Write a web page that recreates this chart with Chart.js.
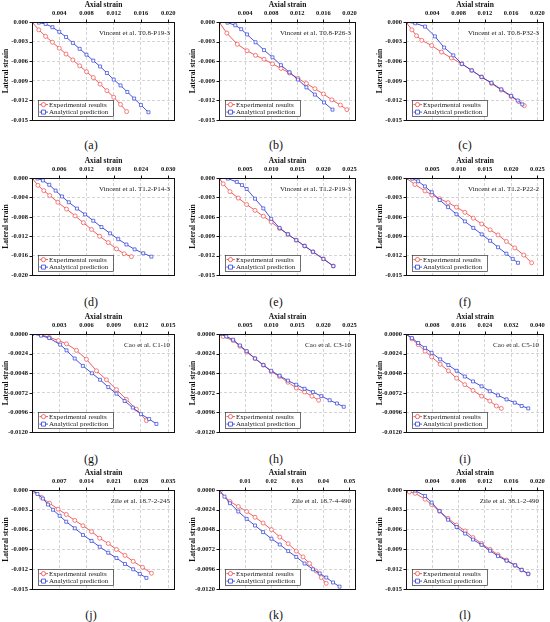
<!DOCTYPE html>
<html>
<head>
<meta charset="utf-8">
<script src="https://cdn.jsdelivr.net/npm/chart.js@4.4.0/dist/chart.umd.min.js"></script>
<style>
body{margin:0;background:#fff;width:550px;height:622px;position:relative;overflow:hidden}
canvas{position:absolute}
.lbl{position:absolute;font-family:"Liberation Serif",serif;font-size:12px;color:#111;transform:translate(-50%,-50%)}
</style>
</head>
<body>
<script>
var panelLetters = ['a','b','c','d','e','f','g','h','i','j','k','l']
var specimenNames = [
    'Vincent et al. T0.8-P19-3','Vincent et al. T0.8-P26-3','Vincent et al. T0.8-P32-3',
    'Vincent et al. T1.2-P14-3','Vincent et al. T1.2-P19-3','Vincent et al. T1.2-P22-2',
    'Cao et al. C1-10','Cao et al. C3-10','Cao et al. C5-10',
    'Zile et al. 18.7-2-245','Zile et al. 18.7-4-490','Zile et al. 38.1-2-490'
]
var xTickSets = [
    [0.004,0.008,0.012,0.016,0.020],
    [0.004,0.008,0.012,0.016,0.020],
    [0.004,0.008,0.012,0.016,0.020],
    [0.006,0.012,0.018,0.024,0.030],
    [0.005,0.010,0.015,0.020,0.025],
    [0.005,0.010,0.015,0.020,0.025],
    [0.003,0.006,0.009,0.012,0.015],
    [0.005,0.010,0.015,0.020,0.025],
    [0.008,0.016,0.024,0.032,0.040],
    [0.007,0.014,0.021,0.028,0.035],
    [0.01,0.02,0.03,0.04,0.05],
    [0.004,0.008,0.012,0.016,0.020]
]
var xDecimals = [3,3,3,3,3,3,3,3,3,3,2,3]
var yTicks15 = [0,-0.003,-0.006,-0.009,-0.012,-0.015]
var yTicks20 = [0,-0.004,-0.008,-0.012,-0.016,-0.020]
var yTicks12 = [0,-0.0024,-0.0048,-0.0072,-0.0096,-0.0120]
var yTickSets = [yTicks15,yTicks15,yTicks15,yTicks20,yTicks15,yTicks15,yTicks12,yTicks12,yTicks12,yTicks15,yTicks12,yTicks15]
var yDecimals = [3,3,3,3,3,3,4,4,4,3,4,3]

// experimental results / analytical prediction, [axial, lateral]
var expA = [[0,0],[0.001,-0.0012],[0.002,-0.0022],[0.003,-0.0031],[0.004,-0.0040],[0.005,-0.0049],[0.006,-0.0058],[0.007,-0.0067],[0.008,-0.0076],[0.009,-0.0085],[0.010,-0.0095],[0.011,-0.0105],[0.012,-0.0115],[0.013,-0.0126],[0.0139,-0.0137]]
var anaA = [[0,0],[0.001,-0.0001],[0.002,-0.0003],[0.003,-0.0008],[0.004,-0.0015],[0.005,-0.0023],[0.006,-0.0032],[0.007,-0.0041],[0.008,-0.0050],[0.009,-0.0059],[0.010,-0.0068],[0.011,-0.0078],[0.012,-0.0088],[0.013,-0.0097],[0.014,-0.0107],[0.015,-0.0117],[0.016,-0.0127],[0.0171,-0.0138]]
var expB = [[0,0],[0.0012,-0.0017],[0.0028,-0.0034],[0.0043,-0.0044],[0.0056,-0.0051],[0.0069,-0.0057],[0.0082,-0.0064],[0.0095,-0.0071],[0.0108,-0.0078],[0.0121,-0.0086],[0.0134,-0.0094],[0.0147,-0.0102],[0.016,-0.0110],[0.0173,-0.0119],[0.0186,-0.0127],[0.0196,-0.0134]]
var anaB = [[0,0],[0.0013,-0.0001],[0.0025,-0.0005],[0.0034,-0.0011],[0.0043,-0.0019],[0.0056,-0.0031],[0.0069,-0.0043],[0.0082,-0.0054],[0.0095,-0.0066],[0.0108,-0.0077],[0.0121,-0.0088],[0.0134,-0.0100],[0.0147,-0.0111],[0.0161,-0.0123],[0.0174,-0.0134]]
var expC = [[0,0],[0.0009,-0.0012],[0.0016,-0.0021],[0.0024,-0.0028],[0.0039,-0.0036],[0.0054,-0.0046],[0.0069,-0.0055],[0.0085,-0.0064],[0.0100,-0.0074],[0.0115,-0.0084],[0.0130,-0.0094],[0.0145,-0.0104],[0.0160,-0.0114],[0.0172,-0.0122],[0.0180,-0.0128]]
var anaC = [[0,0],[0.0014,-0.0002],[0.0029,-0.0007],[0.0044,-0.0022],[0.0058,-0.0039],[0.0072,-0.0051],[0.0085,-0.0064],[0.0100,-0.0074],[0.0115,-0.0084],[0.0130,-0.0093],[0.0145,-0.0103],[0.0160,-0.0113],[0.0170,-0.0120],[0.0177,-0.0126]]
var expD = [[0,0],[0.0013,-0.0015],[0.0026,-0.0026],[0.0039,-0.0036],[0.0057,-0.0050],[0.0076,-0.0064],[0.0095,-0.0078],[0.0113,-0.0092],[0.0131,-0.0106],[0.0149,-0.0120],[0.0168,-0.0133],[0.0186,-0.0146],[0.0203,-0.0156],[0.0219,-0.0162]]
var anaD = [[0,0],[0.0012,-0.0001],[0.0024,-0.0005],[0.0038,-0.0014],[0.0052,-0.0026],[0.0066,-0.0038],[0.0081,-0.0050],[0.0099,-0.0063],[0.0117,-0.0075],[0.0135,-0.0088],[0.0153,-0.0101],[0.0172,-0.0114],[0.0190,-0.0126],[0.0208,-0.0137],[0.0226,-0.0147],[0.0245,-0.0155],[0.0263,-0.0162]]
var expE = [[0,0],[0.0008,-0.0009],[0.0021,-0.0021],[0.0037,-0.0031],[0.0053,-0.0041],[0.0069,-0.0050],[0.0085,-0.0059],[0.0100,-0.0068],[0.0116,-0.0078],[0.0132,-0.0087],[0.0148,-0.0096],[0.0164,-0.0105],[0.0180,-0.0114],[0.0200,-0.0125],[0.0219,-0.0136]]
var anaE = [[0,0],[0.0017,-0.0001],[0.0034,-0.0006],[0.0044,-0.0011],[0.0053,-0.0017],[0.0069,-0.0032],[0.0085,-0.0047],[0.0100,-0.0063],[0.0116,-0.0077],[0.0132,-0.0087],[0.0148,-0.0096],[0.0164,-0.0105],[0.0180,-0.0114],[0.0200,-0.0125],[0.0219,-0.0136]]
var expF = [[0,0],[0.0017,-0.0010],[0.0036,-0.0020],[0.0049,-0.0026],[0.0064,-0.0032],[0.0080,-0.0038],[0.0096,-0.0045],[0.0112,-0.0053],[0.0128,-0.0062],[0.0144,-0.0071],[0.0160,-0.0080],[0.0175,-0.0088],[0.0191,-0.0098],[0.0207,-0.0108],[0.0224,-0.0119],[0.0239,-0.0131]]
var anaF = [[0,0],[0.0012,-0.0001],[0.0023,-0.0005],[0.0036,-0.0013],[0.0049,-0.0022],[0.0064,-0.0034],[0.0080,-0.0045],[0.0096,-0.0056],[0.0112,-0.0067],[0.0128,-0.0077],[0.0144,-0.0087],[0.0160,-0.0097],[0.0175,-0.0107],[0.0191,-0.0117],[0.0203,-0.0125],[0.0213,-0.0131]]
var expG = [[0,0],[0.0010,-0.0001],[0.0019,-0.0004],[0.0029,-0.0008],[0.0038,-0.0012],[0.0049,-0.0020],[0.0060,-0.0031],[0.0071,-0.0045],[0.0082,-0.0056],[0.0093,-0.0068],[0.0104,-0.0080],[0.0115,-0.0092],[0.0126,-0.0106]]
var anaG = [[0,0],[0.0010,-0.0002],[0.0019,-0.0005],[0.0031,-0.0013],[0.0038,-0.0020],[0.0047,-0.0030],[0.0056,-0.0039],[0.0066,-0.0048],[0.0075,-0.0056],[0.0084,-0.0065],[0.0093,-0.0073],[0.0102,-0.0082],[0.0111,-0.0090],[0.0120,-0.0098],[0.0129,-0.0104],[0.0137,-0.0110]]
var expH = [[0,0],[0.0008,-0.0003],[0.0027,-0.0008],[0.0040,-0.0015],[0.0053,-0.0022],[0.0069,-0.0030],[0.0085,-0.0038],[0.0100,-0.0046],[0.0116,-0.0052],[0.0132,-0.0059],[0.0148,-0.0066],[0.0164,-0.0071],[0.0178,-0.0076],[0.0191,-0.0081]]
var anaH = [[0,0],[0.0014,-0.0003],[0.0027,-0.0007],[0.0040,-0.0014],[0.0053,-0.0021],[0.0069,-0.0030],[0.0085,-0.0038],[0.0100,-0.0045],[0.0116,-0.0051],[0.0132,-0.0057],[0.0148,-0.0062],[0.0164,-0.0067],[0.0180,-0.0071],[0.0196,-0.0076],[0.0212,-0.0081],[0.0226,-0.0085],[0.0239,-0.0089]]
var expI = [[0,0],[0.0018,-0.0006],[0.0037,-0.0013],[0.0058,-0.0021],[0.0078,-0.0028],[0.0104,-0.0037],[0.0129,-0.0045],[0.0154,-0.0054],[0.0179,-0.0062],[0.0204,-0.0069],[0.0230,-0.0076],[0.0255,-0.0082],[0.0275,-0.0088],[0.0290,-0.0091]]
var anaI = [[0,0],[0.0018,-0.0005],[0.0037,-0.0011],[0.0058,-0.0017],[0.0078,-0.0023],[0.0104,-0.0031],[0.0129,-0.0038],[0.0154,-0.0045],[0.0179,-0.0052],[0.0204,-0.0058],[0.0230,-0.0064],[0.0255,-0.0070],[0.0280,-0.0075],[0.0306,-0.0080],[0.0331,-0.0084],[0.0352,-0.0088],[0.0372,-0.0091]]
var expJ = [[0,0],[0.0003,-0.0002],[0.0024,-0.0011],[0.0045,-0.0020],[0.0067,-0.0029],[0.0088,-0.0037],[0.0110,-0.0046],[0.0131,-0.0054],[0.0153,-0.0063],[0.0174,-0.0073],[0.0196,-0.0081],[0.0217,-0.0090],[0.0239,-0.0099],[0.0260,-0.0108],[0.0284,-0.0117],[0.0307,-0.0126]]
var anaJ = [[0,0],[0.0014,-0.0006],[0.0028,-0.0013],[0.0041,-0.0022],[0.0054,-0.0030],[0.0071,-0.0039],[0.0088,-0.0048],[0.0110,-0.0058],[0.0131,-0.0068],[0.0153,-0.0077],[0.0174,-0.0086],[0.0196,-0.0095],[0.0217,-0.0103],[0.0239,-0.0112],[0.0260,-0.0120],[0.0277,-0.0127],[0.0294,-0.0133]]
var expK = [[0,0],[0.0004,-0.0002],[0.0042,-0.0014],[0.0074,-0.0020],[0.0106,-0.0026],[0.0138,-0.0033],[0.0169,-0.0040],[0.0201,-0.0048],[0.0233,-0.0057],[0.0265,-0.0065],[0.0296,-0.0074],[0.0322,-0.0081],[0.0347,-0.0089],[0.0372,-0.0098],[0.0392,-0.0106],[0.0411,-0.0113]]
var anaK = [[0,0],[0.0021,-0.0008],[0.0042,-0.0016],[0.0074,-0.0026],[0.0106,-0.0035],[0.0138,-0.0043],[0.0169,-0.0051],[0.0201,-0.0059],[0.0233,-0.0066],[0.0265,-0.0074],[0.0296,-0.0081],[0.0328,-0.0089],[0.0360,-0.0096],[0.0386,-0.0101],[0.0411,-0.0106],[0.0437,-0.0112],[0.0462,-0.0117]]
var expL = [[0,-0.0001],[0.0005,-0.0003],[0.0014,-0.0005],[0.0029,-0.0014],[0.0039,-0.0022],[0.0051,-0.0032],[0.0064,-0.0043],[0.0077,-0.0053],[0.0090,-0.0062],[0.0102,-0.0072],[0.0115,-0.0081],[0.0128,-0.0090],[0.0140,-0.0098],[0.0153,-0.0106],[0.0166,-0.0114],[0.0176,-0.0121],[0.0186,-0.0127]]
var anaL = [[0,0],[0.0014,-0.0001],[0.0029,-0.0009],[0.0039,-0.0019],[0.0051,-0.0032],[0.0064,-0.0045],[0.0077,-0.0056],[0.0090,-0.0066],[0.0102,-0.0075],[0.0115,-0.0083],[0.0128,-0.0092],[0.0140,-0.0100],[0.0153,-0.0107],[0.0166,-0.0114],[0.0176,-0.0121],[0.0186,-0.0127]]

var expSeries = [expA,expB,expC,expD,expE,expF,expG,expH,expI,expJ,expK,expL]
var anaSeries = [anaA,anaB,anaC,anaD,anaE,anaF,anaG,anaH,anaI,anaJ,anaK,anaL]

// page layout of plot areas
var colLeft = [32,219,406]
var colRight = [175,356,544]
var rowTop = [22,178,334,490]
var rowBottom = [123,278,435,592]
var labelX = [91,276,465]
var labelY = [145,302,459,615]

var RED = '#f24a4a'
var BLUE = '#2f3fd8'
var SERIF = '"Liberation Serif", "Times New Roman", serif'

function makeDeco(i){
    return {
        id: 'deco' + i,
        afterDraw: function(chart){
            var ctx = chart.ctx
            var a = chart.chartArea
            ctx.save()
            // frame
            ctx.strokeStyle = '#111'
            ctx.lineWidth = 1
            ctx.strokeRect(Math.round(a.left) + 0.5, Math.round(a.top) + 0.5, Math.round(a.right - a.left) - 1, Math.round(a.bottom - a.top))
            // small ticks
            var xs = chart.scales.x, ys = chart.scales.y
            ctx.beginPath()
            xTickSets[i].forEach(function(v){
                var px = Math.round(xs.getPixelForValue(v)) + 0.5
                ctx.moveTo(px, a.top); ctx.lineTo(px, a.top - 2.5)
            })
            yTickSets[i].forEach(function(v){
                var py = Math.round(ys.getPixelForValue(v)) + 0.5
                ctx.moveTo(a.left, py); ctx.lineTo(a.left - 2.5, py)
            })
            ctx.stroke()
            // specimen name
            ctx.fillStyle = '#222'
            ctx.font = '7px ' + SERIF
            ctx.textAlign = 'right'
            ctx.textBaseline = 'middle'
            ctx.fillText(specimenNames[i], a.right - 5, a.top + 11)
            // legend box
            var bx = a.left + 6, by = a.bottom - 20, bw = 75, bh = 16
            ctx.fillStyle = '#fff'
            ctx.fillRect(bx, by, bw, bh)
            ctx.strokeStyle = '#333'
            ctx.lineWidth = 0.7
            ctx.strokeRect(bx + 0.5, by + 0.5, bw, bh)
            var rows = [
                {text: 'Experimental results', color: RED, shape: 'circle', y: by + 4.5},
                {text: 'Analytical prediction', color: BLUE, shape: 'rect', y: by + 12}
            ]
            rows.forEach(function(r){
                ctx.strokeStyle = r.color
                ctx.lineWidth = 0.9
                ctx.beginPath()
                ctx.moveTo(bx + 1.5, r.y); ctx.lineTo(bx + 10, r.y)
                ctx.stroke()
                ctx.fillStyle = '#fff'
                ctx.lineWidth = 0.8
                ctx.beginPath()
                if(r.shape == 'circle'){ ctx.arc(bx + 5.5, r.y, 2.1, 0, Math.PI * 2) }
                else { ctx.rect(bx + 3.5, r.y - 2, 4, 4) }
                ctx.fill(); ctx.stroke()
                ctx.fillStyle = '#222'
                ctx.font = '7px ' + SERIF
                ctx.textAlign = 'left'
                ctx.fillText(r.text, bx + 11, r.y + 0.5)
            })
            ctx.restore()
        }
    }
}

for(var i = 0; i < 12; i++){
    var col = i % 3, row = Math.floor(i / 3)
    var pl = colLeft[col], pr = colRight[col], pt = rowTop[row], pb = rowBottom[row]
    var canvas = document.createElement('canvas')
    var cw = (pr - pl) + 32 + 6
    var chh = (pb - pt) + 22 + 5
    canvas.width = cw
    canvas.height = chh
    canvas.style.left = (pl - 32) + 'px'
    canvas.style.top = (pt - 22) + 'px'
    canvas.style.width = cw + 'px'
    canvas.style.height = chh + 'px'
    document.body.appendChild(canvas)

    var lbl = document.createElement('div')
    lbl.className = 'lbl'
    lbl.style.left = labelX[col] + 'px'
    lbl.style.top = labelY[row] + 'px'
    lbl.textContent = '(' + panelLetters[i] + ')'
    document.body.appendChild(lbl)

    var xt = xTickSets[i], yt = yTickSets[i]
    ;(function(i, xt, yt){
        new Chart(canvas, {
            type: 'scatter',
            data: {
                datasets: [
                    {
                        label: 'Analytical prediction',
                        data: anaSeries[i],
                        showLine: true,
                        borderColor: BLUE,
                        borderWidth: 0.9,
                        pointStyle: 'rect',
                        pointRadius: 2.1,
                        pointBorderWidth: 0.7,
                        pointBorderColor: BLUE,
                        pointBackgroundColor: '#fff'
                    },
                    {
                        label: 'Experimental results',
                        data: expSeries[i],
                        showLine: true,
                        borderColor: RED,
                        borderWidth: 0.9,
                        pointStyle: 'circle',
                        pointRadius: 2,
                        pointBorderWidth: 0.7,
                        pointBorderColor: RED,
                        pointBackgroundColor: '#fff'
                    }
                ]
            },
            options: {
                responsive: false,
                animation: false,
                events: [],
                layout: {padding: {left: 0, top: 0, right: 6, bottom: 5}},
                scales: {
                    x: {
                        type: 'linear',
                        position: 'top',
                        min: 0,
                        max: xt[xt.length - 1] * 1.05,
                        afterBuildTicks: function(s){ s.ticks = xt.map(function(v){ return {value: v} }) },
                        afterFit: function(s){ s.height = 22 },
                        title: {display: true, text: 'Axial strain', color: '#111', font: {family: SERIF, size: 7.5, weight: 'bold'}, padding: {top: 0.5, bottom: 0}},
                        ticks: {autoSkip: false, maxRotation: 0, padding: 4.5, color: '#111', font: {family: SERIF, size: 6.5, weight: 'bold'},
                            callback: function(v){ return Number(v).toFixed(xDecimals[i]) }},
                        grid: {color: '#c2c2c2', lineWidth: 0.7, drawTicks: false},
                        border: {display: false, dash: [3, 2]}
                    },
                    y: {
                        type: 'linear',
                        position: 'left',
                        min: yt[yt.length - 1],
                        max: 0,
                        afterBuildTicks: function(s){ s.ticks = yt.map(function(v){ return {value: v} }) },
                        afterFit: function(s){ s.width = 32 },
                        title: {display: true, text: 'Lateral strain', color: '#111', font: {family: SERIF, size: 7.5, weight: 'bold'}, padding: {top: 2, bottom: 0}},
                        ticks: {autoSkip: false, padding: 4, color: '#111', font: {family: SERIF, size: 6.5, weight: 'bold'},
                            callback: function(v){ return Math.abs(v) < 1e-9 ? (0).toFixed(yDecimals[i]) : Number(v).toFixed(yDecimals[i]) }},
                        grid: {color: '#c2c2c2', lineWidth: 0.7, drawTicks: false},
                        border: {display: false, dash: [3, 2]}
                    }
                },
                plugins: {legend: {display: false}, tooltip: {enabled: false}}
            },
            plugins: [makeDeco(i)]
        })
    })(i, xt, yt)
}
</script>
</body>
</html>
